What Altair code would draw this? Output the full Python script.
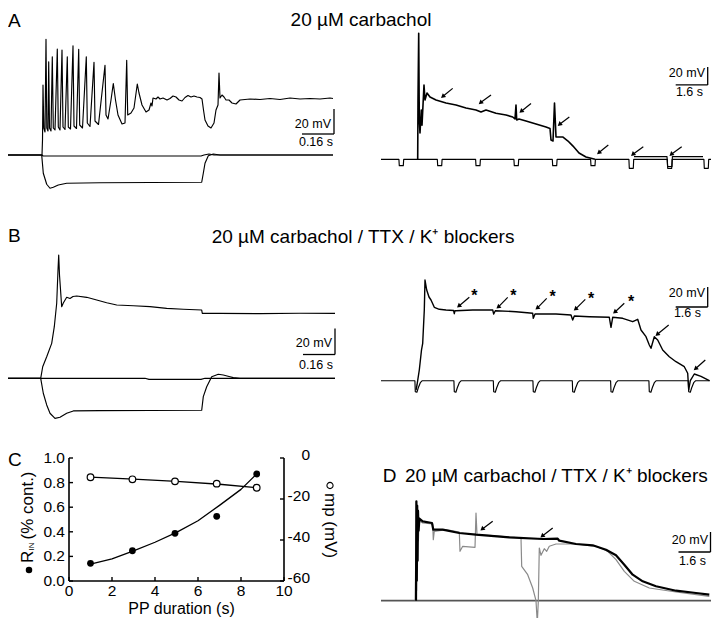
import altair as alt
import pandas as pd

W, H = 704, 610
FONT = "Liberation Sans"

# ---------------- Panel A (left): current steps, time in s, voltage in mV re. rest
AL_UP = [(0,0),(0.185,0),(0.1875,12),(0.19,56),(0.194,21.6),(0.2,18.4),(0.205,92.6),(0.209,21.6),(0.215,19.2),
         (0.2185,74.6),(0.2225,21.6),(0.23,19.2),(0.2365,78.6),(0.2415,21.6),(0.25,20),(0.2615,84.8),(0.2665,22.4),
         (0.275,20),(0.285,84),(0.29,22.4),(0.3,20.4),(0.3115,78.6),(0.3165,22.4),(0.3275,20.8),(0.34,87.4),(0.345,23.2),
         (0.3575,21.2),(0.3685,84.6),(0.3735,24),(0.3875,21.6),(0.4065,78.6),(0.4115,25.6),(0.425,22.8),(0.445,74.2),
         (0.45,27.2),(0.4675,24.4),(0.5,71.8),(0.505,32),(0.515,28.8),(0.53,44),(0.5415,57.2),(0.5525,44),(0.565,32),
         (0.585,24.8),(0.6,25.6),(0.6085,75.8),(0.6135,32),(0.63,33.6),(0.645,37.6),(0.6615,56.8),(0.67,49.6),(0.685,40),
         (0.705,34.4),(0.72,36),(0.73,41.6),(0.735,39.2),(0.74,45.6),(0.755,44.8),(0.765,46.4),(0.775,44.8),(0.79,45.6),
         (0.81,44),(0.825,45.2),(0.84,47.2),(0.855,46.4),(0.87,44),(0.885,43.2),(0.9,46),(0.915,47.6),(0.93,46.4),
         (0.945,47.2),(0.96,46.4),(0.975,46),(0.985,44.8),(0.9925,36),(1.0,28),(1.015,23.2),(1.03,21.6),(1.045,25.6),
         (1.055,36),(1.065,40),(1.07,65.6),(1.075,45.6),(1.085,48),(1.095,46.4),(1.105,44),(1.12,44),(1.135,41.6),
         (1.155,40.8),(1.175,44),(1.225,44.8),(1.275,44.4),(1.325,45.2),(1.375,44.4),(1.425,45.6),(1.475,44.8),
         (1.525,45.2),(1.575,44.8),(1.625,45.6),(1.64,45.2)]
AL_FLAT = [(0,0),(0.185,0),(0.19,-0.8),(0.98,-0.8),(0.995,0),(1.02,0.8),(1.045,0),(1.64,0)]
AL_DOWN = [(0,0),(0.1835,0),(0.1915,-14.6),(0.2085,-23.4),(0.225,-26.6),(0.2415,-25.8),(0.2665,-24),(0.3085,-22.6),
           (0.475,-22.2),(0.9835,-21.8),(0.9915,-14.6),(1.0,-6.6),(1.0165,-0.6),(1.0415,0.8),(1.075,0),(1.64,0)]

# ---------------- Panel A (right): test-pulse sweep
AR_NOTCH_T = [0.915, 2.835, 4.75, 6.665, 8.585, 10.5, 12.415, 14.335, 16.165]
AR_NOTCH_D = [7, 7, 7, 7, 7, 7, 10, 10, 10]
AR_NOTCH_SHAPE = [(-0.02, 0), (0, -1), (0.2, -1), (0.22, 0)]
AR_BASE2 = [(12.65,3),(14.3,3),(14.33,-8),(14.55,-8),(14.57,3),(16.1,3)]
AR_MAIN = [(1.835,0),(1.85,65.9),(1.885,140),(1.915,43.7),(1.95,29.2),(2.015,54.8),(2.05,38),(2.15,82.6),(2.2,65.9),
           (2.3,73.7),(2.45,69.2),(2.75,65.9),(3.25,62.6),(3.75,60.4),(4.25,57),(4.75,54.8),(5.0,52.6),(5.25,54.8),
           (5.75,51.1),(6.25,49.2),(6.585,47),(6.7,44.8),(6.75,60.4),(6.785,43.6),(6.9,44.8),(7.25,42.5),(7.75,39.2),
           (8.25,35.8),(8.45,34.2),(8.5,21.4),(8.6,20.3),(8.675,62.6),(8.75,24.8),(9.085,24.8),(9.35,20.3),(9.6,14.7),
           (9.9,7),(10.25,2.6),(10.5,1.1),(10.7,0)]
AR_ARROWS = [(3.585,78.8,3.115,70.3),(5.5,71.4,5.0,63.3),(7.5,61.9,7.035,53.7),(9.415,47,8.95,39.2),
             (11.365,15.9,10.915,7.8),(13.115,14,12.615,5.9),(15.035,14,14.535,5.9)]

# ---------------- Panel B (left)
BL_UP = [(0,0),(0.1785,0),(0.1885,8.9),(0.2085,16.6),(0.2335,26.9),(0.2465,39.7),(0.2585,57.7),(0.265,83.3),
         (0.2685,94.8),(0.2725,79.4),(0.2835,55.1),(0.2915,57.9),(0.3085,62.3),(0.325,61.4),(0.34,62.9),(0.3585,63.3),
         (0.4085,62.3),(0.4585,60.2),(0.5085,58.1),(0.5585,56.4),(0.6415,55.8),(0.725,55.1),(0.8085,53.8),
         (0.8915,53.1),(0.9835,52.5),(0.9865,50),(1.075,50),(1.275,49.7),(1.475,50),(1.65,50)]
BL_DOWN = [(0,0),(0.1785,0),(0.1915,-11.5),(0.2085,-20.5),(0.225,-26.9),(0.25,-30.8),(0.275,-30),(0.3085,-26.9),
           (0.3415,-25.1),(0.475,-24.9),(0.9835,-24.6),(0.9915,-14.1),(1.0085,-6.5),(1.0335,1.2),(1.0665,3.1),
           (1.0915,2.5),(1.125,1.2),(1.1415,0.5),(1.175,0),(1.65,0)]
BL_FLAT = [(0,0),(0.7,0),(0.72,-0.8),(0.98,-0.8),(1.0,0),(1.65,0)]

# ---------------- Panel B (right)
BR_NOTCH_T = [1.715, 3.665, 5.635, 7.615, 9.585, 11.5, 13.415, 15.385]
BR_NOTCH_D = [11, 11, 11, 11, 11, 11, 11, 11]
BR_NOTCH_SHAPE = [(-0.02, 0), (0, -1), (0.08, -1.05), (0.15, -0.64), (0.25, -0.18), (0.35, 0)]
BR_MAIN = [(1.75,-9.3),(1.8,-4.3),(1.915,10.7),(2.025,30.7),(2.085,37.4),(2.165,70.7),(2.2,100.7),(2.285,90.7),
           (2.4,83.7),(2.5,80.7),(2.665,73.4),(2.915,71.4),(3.25,70.7),(3.63,70.2),(3.665,67),(3.7,70),(3.75,70),
           (4.585,70.7),(5.585,70.7),(5.635,66.7),(5.715,70),(6.75,69),(7.585,67.4),(7.615,62.4),(7.7,66.7),
           (8.75,66.7),(9.5,65.7),(9.585,60.7),(9.665,64.7),(10.415,64),(11.415,63.4),(11.5,53.4),(11.585,63.4),
           (12.085,62.4),(12.585,59),(12.835,61.4),(13.0,50.7),(13.25,44),(13.415,35.7),(13.5,32.4),(13.665,44),
           (13.835,40.7),(14.085,30.7),(14.415,24),(14.75,19),(15.165,14),(15.335,7.4),(15.385,-9.3),(15.465,0),
           (15.665,6.7),(16.0,4.4),(16.415,0)]
BR_ARROWS = [(4.415,83.4,3.915,75),(6.335,83.4,5.885,74),(8.285,82.4,7.835,73),(10.215,81.4,9.75,72),
             (12.165,77.4,11.715,69),(14.385,55.7,13.835,46.7),(16.215,20.7,15.75,12.4)]
BR_STARS = [(4.665,87.4),(6.615,87.4),(8.585,86.7),(10.5,84.7),(12.5,81.4)]

# ---------------- Panel C
PP_DUR = [1.0, 2.95, 4.93, 6.87, 8.73]
RIN = [0.144, 0.246, 0.388, 0.526, 0.87]
MP = [-9.4, -10.4, -11.4, -12.5, -14.5]
RIN_FIT = [(1,0.138),(2,0.18),(3,0.245),(4,0.315),(5,0.395),(6,0.49),(7,0.615),(8,0.745),(8.73,0.87)]
MP_FIT = [(1,-9.3),(3,-10.3),(5,-11.4),(7,-12.8),(8.73,-14.5)]
C_X_TICKS = [0, 2, 4, 6, 8, 10]
C_YL_TICKS = [0.0, 0.2, 0.4, 0.6, 0.8, 1.0]
C_YR_TICKS = [0, -20, -40, -60]

# ---------------- Panel D
D_BASE = [(0,0),(16.5,0)]
D_BLACK = [(1.75,0),(1.77,99.4),(1.79,20),(1.81,95),(1.83,40),(1.85,90),(1.88,70),(1.92,82),(2.085,79.4),(2.55,77.7),
           (2.615,71),(3.085,71),(3.915,67.7),(4.75,66),(6.415,63.4),(8.085,61.7),(8.835,62),(8.915,60),(9.75,56.7),
           (10.585,55.4),(11.25,51),(11.75,45.4),(12.165,36),(12.585,26),(13.085,19.4),(13.75,14.4),(14.75,10),
           (15.75,7.7),(16.415,6)]
D_GREY = [(1.715,0),(1.76,99),(1.78,10),(1.8,92),(1.82,30),(1.84,85),(1.87,60),(1.9,80),(2.085,77.7),(2.585,76.7),
          (2.615,61),(2.665,69.4),(3.25,71),(3.915,68.7),(3.95,49.4),(4.085,54.4),(4.7,53.4),(4.75,87.7),(4.8,66),
          (5.585,65),(7.0,62.7),(7.035,34.4),(7.335,26),(7.585,12.7),(7.75,0),(7.815,-22.3),(7.865,-0.6),(7.915,52.7),
          (8.0,45.4),(8.165,52),(8.285,49.4),(8.415,54.4),(8.75,56.7),(9.75,56.7),(10.75,54.4),(11.335,49.4),
          (11.75,41),(12.165,29.4),(12.665,19.4),(13.415,12.7),(14.75,8.7),(16.415,4.4)]
D_ARROWS = [(5.585,79.4,5.085,72),(8.585,72.7,8.085,65)]

# ---------------- scale bars: (t of vertical bar, v of corner, dt, dv) and labels
SCALEBARS = {"AL": (1.645, 16.8, 0.16, 20), "AR": (16.335, 82.6, 1.6, 20), "BL": (1.65, 18.3, 0.16, 20),
             "BR": (16.335, 73.7, 1.6, 20), "D": (16.475, 48.7, 1.6, 20)}
SB_LABELS = {"AL": [(1.63, 22.0, "20 mV"), (1.64, 7.2, "0.16 s")],
             "AR": [(16.2, 91.4, "20 mV"), (16.1, 70.3, "1.6 s")],
             "BL": [(1.635, 24.1, "20 mV"), (1.64, 7.5, "0.16 s")],
             "BR": [(16.2, 84.2, "20 mV"), (16.0, 63.7, "1.6 s")],
             "D": [(16.35, 56.7, "20 mV"), (16.25, 35.7, "1.6 s")]}


def dom_x(px0, ppu):
    return [(0 - px0) / ppu, (W - px0) / ppu]


def dom_y(py0, ppu):
    return [(py0 - H) / ppu, py0 / ppu]


PANEL = {
    "AL": (dom_x(-3, 200), dom_y(147, 1.25)),
    "AR": (dom_x(373, 20), dom_y(151.3, 0.9)),
    "BL": (dom_x(-3, 200), dom_y(370.3, 1.3)),
    "BR": (dom_x(373, 20), dom_y(372.7, 1.0)),
    "CL": (dom_x(61, 21.5), dom_y(573, 123)),
    "CR": (dom_x(61, 21.5), dom_y(450, 2.05)),
    "D": (dom_x(373, 20), dom_y(592.7, 1.0)),
}


def ex(p, f="t"):
    return alt.X(f"{f}:Q", scale=alt.Scale(domain=PANEL[p][0], nice=False, zero=False), axis=None)


def ey(p, f="v"):
    return alt.Y(f"{f}:Q", scale=alt.Scale(domain=PANEL[p][1], nice=False, zero=False), axis=None)


def trace(p, pts, color="black", width=1.15):
    df = pd.DataFrame(pts, columns=["t", "v"])
    df["i"] = range(len(df))
    return alt.Chart(df).mark_line(color=color, strokeWidth=width, strokeJoin="round").encode(
        x=ex(p), y=ey(p), order="i:Q")


def notched(t_end, times, depths, shape):
    pts = [(0, 0)]
    for tn, d in zip(times, depths):
        for dt, f in shape:
            pts.append((tn + dt, f * d))
    pts.append((t_end, 0))
    return pts


def segs(p, rows, width=1.2, color="black"):
    df = pd.DataFrame(rows, columns=["t", "v", "t2", "v2"])
    return alt.Chart(df).mark_rule(color=color, strokeWidth=width).encode(
        x=ex(p), y=ey(p), x2=alt.X2("t2"), y2=alt.Y2("v2"))


def arrows(p, rows):
    df = pd.DataFrame(rows, columns=["t", "v", "t2", "v2"])
    shaft = alt.Chart(df).mark_rule(color="black", strokeWidth=1.2).encode(
        x=ex(p), y=ey(p), x2=alt.X2("t2"), y2=alt.Y2("v2"))
    head = alt.Chart(df).mark_point(shape="triangle", filled=True, size=26, angle=230, color="black",
                                    opacity=1).encode(x=ex(p, "t2"), y=ey(p, "v2"))
    return [shaft, head]


def texts(p, rows, size=12, align="right", baseline="alphabetic", dx=0, dy=0, weight="normal"):
    df = pd.DataFrame(rows, columns=["t", "v", "label"])
    return alt.Chart(df).mark_text(font=FONT, fontSize=size, align=align, baseline=baseline, dx=dx, dy=dy,
                                   fontWeight=weight, color="black").encode(x=ex(p), y=ey(p), text="label:N")


def scalebar(p):
    t, v, dt, dv = SCALEBARS[p]
    return [segs(p, [(t, v, t, v + dv), (t - dt, v, t, v)], width=1.3), texts(p, SB_LABELS[p], size=12.5)]


def label(x, y, s, size, align="left", baseline="alphabetic", angle=0):
    return alt.Chart(pd.DataFrame({"s": [s]})).mark_text(
        font=FONT, fontSize=size, align=align, baseline=baseline, angle=angle, color="black").encode(
        x=alt.value(x), y=alt.value(y), text="s:N")


layers = []
# A left
layers += [trace("AL", AL_FLAT), trace("AL", AL_DOWN), trace("AL", AL_UP)] + scalebar("AL")
# A right
layers += [trace("AR", notched(16.5, AR_NOTCH_T, AR_NOTCH_D, AR_NOTCH_SHAPE)), trace("AR", AR_BASE2),
           trace("AR", AR_MAIN, width=1.6)] + arrows("AR", AR_ARROWS) + scalebar("AR")
# B left
layers += [trace("BL", BL_FLAT), trace("BL", BL_DOWN), trace("BL", BL_UP)] + scalebar("BL")
# B right
layers += [trace("BR", notched(16.45, BR_NOTCH_T, BR_NOTCH_D, BR_NOTCH_SHAPE)), trace("BR", BR_MAIN, width=1.4)]
layers += arrows("BR", BR_ARROWS)
layers += [texts("BR", [(t, v, "*") for t, v in BR_STARS], size=16, align="center", dy=8, weight="bold")]
layers += scalebar("BR")

# C
layers += [segs("CL", [(0, 0, 10, 0), (0, 0, 0, 1), (10, 0, 10, 1)], width=1.6)]
layers += [alt.Chart(pd.DataFrame({"t": [0] * len(C_YL_TICKS), "v": C_YL_TICKS})).mark_tick(
    orient="horizontal", size=4, thickness=1.4, xOffset=2, color="black", opacity=1).encode(x=ex("CL"), y=ey("CL"))]
layers += [alt.Chart(pd.DataFrame({"t": C_X_TICKS, "v": [0] * len(C_X_TICKS)})).mark_tick(
    orient="vertical", size=4, thickness=1.4, yOffset=-2, color="black", opacity=1).encode(x=ex("CL"), y=ey("CL"))]
layers += [alt.Chart(pd.DataFrame({"t": [10] * len(C_YR_TICKS), "v": C_YR_TICKS})).mark_tick(
    orient="horizontal", size=4, thickness=1.4, xOffset=-2, color="black", opacity=1).encode(x=ex("CR"), y=ey("CR"))]
layers += [texts("CL", [(0, v, f"{v:.1f}") for v in C_YL_TICKS], size=15.5, align="right", baseline="middle", dx=-4)]
layers += [texts("CL", [(x, 0, f"{x}") for x in C_X_TICKS], size=15.5, align="center", baseline="top", dy=3)]
layers += [texts("CR", [(10, v, f"{v}") for v in C_YR_TICKS], size=15.5, align="right", baseline="middle", dx=26,
                 dy=-3)]
layers += [trace("CL", RIN_FIT, width=1.3), trace("CR", MP_FIT, width=1.3)]
layers += [alt.Chart(pd.DataFrame({"t": PP_DUR, "v": RIN})).mark_circle(size=46, color="black", opacity=1).encode(
    x=ex("CL"), y=ey("CL"))]
layers += [alt.Chart(pd.DataFrame({"t": PP_DUR, "v": MP})).mark_point(
    shape="circle", size=44, fill="white", stroke="black", strokeWidth=1.2, fillOpacity=1, strokeOpacity=1,
    opacity=1).encode(x=ex("CR"), y=ey("CR"))]
# C axis titles
layers += [alt.Chart(pd.DataFrame({"s": [0]})).mark_circle(size=42, color="black", opacity=1).encode(
    x=alt.value(21), y=alt.value(562))]
layers += [label(19.5, 555, "R", 17, angle=270, baseline="middle"),
           label(24, 542.5, "IN", 8, angle=270, baseline="middle"),
           label(19.5, 531.5, "(% cont.)", 17, angle=270, baseline="middle")]
layers += [alt.Chart(pd.DataFrame({"s": [0]})).mark_point(shape="circle", size=38, fill="white", stroke="black",
                                                            strokeWidth=1.1, fillOpacity=1, opacity=1).encode(
    x=alt.value(322), y=alt.value(477.5))]
layers += [label(322, 485, "mp (mV)", 17, angle=90, baseline="middle"),
           label(173.5, 606, "PP duration (s)", 16, align="center")]

# D
layers += [trace("D", D_BASE, color="#555555", width=1.8), trace("D", D_GREY, color="#8a8a8a", width=1.2),
           trace("D", D_BLACK, color="black", width=2.2)] + arrows("D", D_ARROWS) + scalebar("D")

# panel letters and titles
layers += [label(0, 18.5, "A", 19), label(353, 17.5, "20 \u00b5M carbachol", 19, align="center"),
           label(0, 234.3, "B", 19),
           label(355, 234.5, "20 \u00b5M carbachol / TTX / K\u207a blockers", 19, align="center"),
           label(0, 458.3, "C", 19), label(374.7, 474, "D", 19),
           label(397, 474, "20 \u00b5M carbachol / TTX / K\u207a blockers", 19)]

chart = alt.layer(*layers).resolve_scale(x="independent", y="independent").properties(
    width=W, height=H, padding=0, autosize=alt.AutoSizeParams(type="none")
).configure_view(stroke=None)

chart.save("out.html", embed_options={"renderer": "svg", "actions": False})
